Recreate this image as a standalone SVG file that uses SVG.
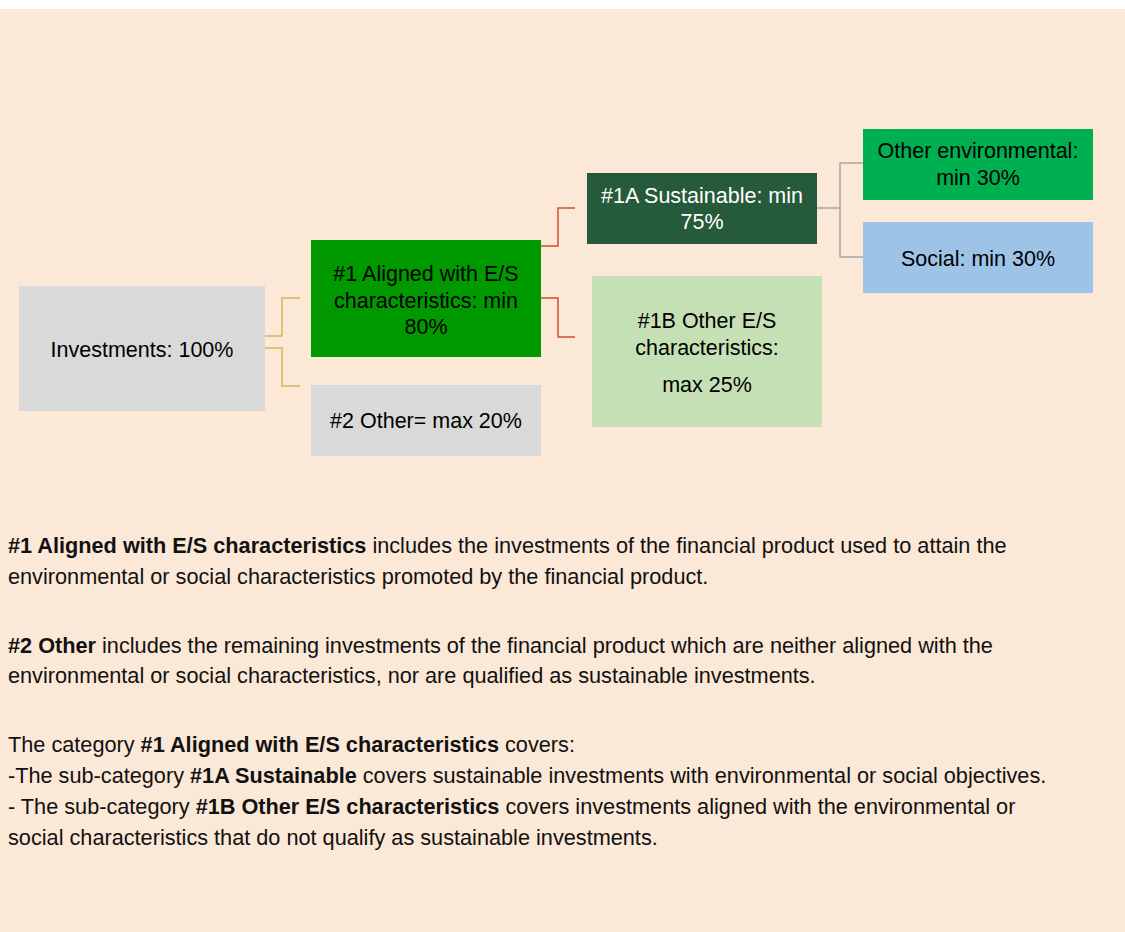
<svg xmlns="http://www.w3.org/2000/svg" width="1125" height="932" viewBox="0 0 1125 932">
<style>
.t{font-family:"Liberation Sans",Arial,sans-serif;font-size:21.5px;fill:#000;text-anchor:middle}
.w{fill:#fff}
.b{font-family:"Liberation Sans",Arial,sans-serif;font-size:21.7px;fill:#111}
.bb{font-weight:bold}
.c{fill:none;stroke-width:1.5}
</style>
<rect x="0" y="0" width="1125" height="932" fill="#fff"/>
<rect x="0" y="9" width="1125" height="923" fill="#FBE8D7"/>
<g id="connectors">
<path class="c" stroke="#CDBB5E" d="M265 336H282V298H300M265 348H282V386H300"/>
<path class="c" stroke="#D0502A" d="M541 246H558V208H575M541 298H558V337H575"/>
<path class="c" stroke="#A6A6A6" d="M817 208H840V163H863M840 208V257H863"/>
</g>
<g id="investments">
<rect x="19" y="286" width="246" height="125" fill="#D9D9D9"/>
<text class="t" x="142" y="357">Investments: 100%</text>
</g>
<g id="aligned">
<rect x="311" y="240" width="230" height="117" fill="#009900"/>
<text class="t" x="426" y="281">#1 Aligned with E/S</text>
<text class="t" x="426" y="308">characteristics: min</text>
<text class="t" x="426" y="334">80%</text>
</g>
<g id="other2">
<rect x="311" y="385" width="230" height="71" fill="#D9D9D9"/>
<text class="t" x="426" y="428">#2 Other= max 20%</text>
</g>
<g id="sustainable">
<rect x="587" y="173" width="230" height="71" fill="#255A3A"/>
<text class="t w" x="702" y="203">#1A Sustainable: min</text>
<text class="t w" x="702" y="229">75%</text>
</g>
<g id="other1b">
<rect x="592" y="276" width="230" height="151" fill="#C5E0B4"/>
<text class="t" x="707" y="328">#1B Other E/S</text>
<text class="t" x="707" y="355">characteristics:</text>
<text class="t" x="707" y="392">max 25%</text>
</g>
<g id="otherenv">
<rect x="863" y="129" width="230" height="71" fill="#00B050"/>
<text class="t" x="978" y="158">Other environmental:</text>
<text class="t" x="978" y="185">min 30%</text>
</g>
<g id="social">
<rect x="863" y="222" width="230" height="71" fill="#9DC3E6"/>
<text class="t" x="978" y="266">Social: min 30%</text>
</g>
<g id="notes">
<text class="b" x="8" y="553"><tspan class="bb">#1 Aligned with E/S characteristics</tspan> includes the investments of the financial product used to attain the</text>
<text class="b" x="8" y="584">environmental or social characteristics promoted by the financial product.</text>
<text class="b" x="8" y="653"><tspan class="bb">#2 Other</tspan> includes the remaining investments of the financial product which are neither aligned with the</text>
<text class="b" x="8" y="683">environmental or social characteristics, nor are qualified as sustainable investments.</text>
<text class="b" x="8" y="752">The category <tspan class="bb">#1 Aligned with E/S characteristics</tspan> covers:</text>
<text class="b" x="8" y="783">-The sub-category <tspan class="bb">#1A Sustainable</tspan> covers sustainable investments with environmental or social objectives.</text>
<text class="b" x="8" y="814">- The sub-category <tspan class="bb">#1B Other E/S characteristics</tspan> covers investments aligned with the environmental or</text>
<text class="b" x="8" y="845">social characteristics that do not qualify as sustainable investments.</text>
</g>
</svg>
